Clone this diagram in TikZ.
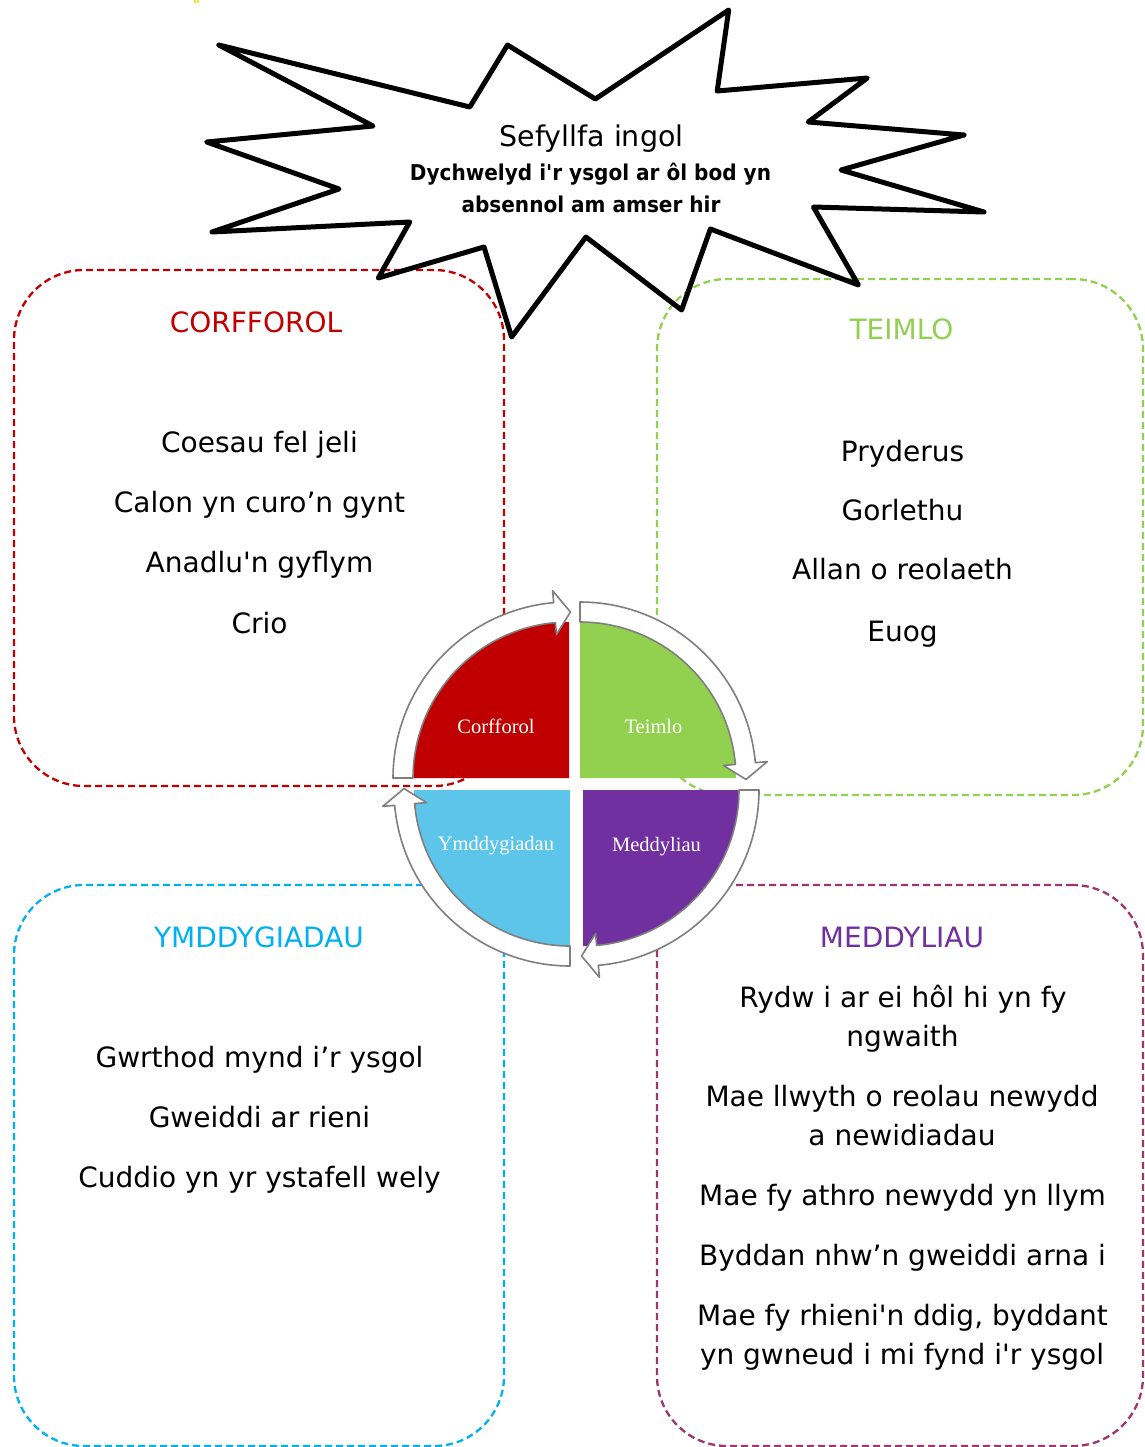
\documentclass[tikz,border=0pt]{standalone}
\usepackage{fontspec}
\setmainfont{DejaVu Sans}[Ligatures=TeXOff]
\newfontfamily\quadfont{Liberation Serif}
\newfontfamily\narrowbold{DejaVu Sans}[Ligatures=TeXOff, FakeStretch=0.92]
\usetikzlibrary{calc}

\definecolor{physred}{HTML}{C00000}
\definecolor{feelgreen}{HTML}{92D050}
\definecolor{actblue}{HTML}{00B0F0}
\definecolor{actfill}{HTML}{5DC5EA}
\definecolor{thinkpurple}{HTML}{7030A0}
\definecolor{thinkdash}{HTML}{9F346E}
\definecolor{ringgray}{HTML}{7F7F7F}
\definecolor{speck}{HTML}{E8E830}

% one white ring segment of the cycle: flat tail, arrow head at the end
% #1,#2 = centre of the quarter, #3 = start angle (angles grow clockwise)
\newcommand\cyclearrow[3]{%
  \pgfmathsetmacro\arrbase{#3+85}%
  \pgfmathsetmacro\arrtip{#3+90.5}%
  \draw[ringseg]
    plot[domain=#3:\arrbase, samples=60] ({#1+176*cos(\x)},{#2+176*sin(\x)})
    -- ({#1+188*cos(\arrbase)},{#2+188*sin(\arrbase)})
    -- ({#1+166*cos(\arrtip)},{#2+166*sin(\arrtip)})
    -- ({#1+144*cos(\arrbase)},{#2+144*sin(\arrbase)})
    -- plot[domain=\arrbase:#3, samples=60] ({#1+156*cos(\x)},{#2+156*sin(\x)})
    -- cycle;
}
% one filled quarter disc
\newcommand\quarterdisc[4]{%
  \fill[#4] (#1,#2) -- plot[domain=#3:#3+90, samples=60] ({#1+156*cos(\x)},{#2+156*sin(\x)}) -- cycle;
}

\begin{document}
\begin{tikzpicture}[x=1pt,y=-1pt,
  panel/.style={rectangle, draw=#1, dash pattern=on 7pt off 4pt, line width=2.3pt,
                rounded corners=70pt, inner sep=0pt},
  heading/.style={text=#1, font=\fontsize{28}{34}\selectfont, anchor=base, inner sep=0pt},
  item/.style={font=\fontsize{28}{34}\selectfont, anchor=base, inner sep=0pt},
  subitem/.style={font=\narrowbold\bfseries\fontsize{21.8}{26}\selectfont, anchor=base, inner sep=0pt},
  quadlabel/.style={text=white, font=\quadfont\fontsize{20.5}{24}\selectfont, anchor=base, inner sep=0pt},
  ringseg/.style={fill=white, draw=ringgray, line width=1.6pt, line join=round},
  burst/.style={draw=black, line width=5pt, line join=round},
]
\useasboundingbox (0,0) rectangle (1144,1447);
\clip (0,0) rectangle (1144,1447);

% tiny yellow speck at the top edge
\fill[speck] (194,0) rectangle (195.6,3);
\fill[speck] (197.4,0) rectangle (199.4,3);

% the four dashed panels
\node[panel=physred, minimum width=490pt, minimum height=516pt] (physbox) at (259,528) {};
\node[panel=feelgreen, minimum width=486pt, minimum height=516pt] (feelbox) at (900,537) {};
\node[panel=actblue, minimum width=490pt, minimum height=561pt] (actbox) at (259,1165.5) {};
\node[panel=thinkdash, minimum width=486pt, minimum height=561pt] (thinkbox) at (900,1165.5) {};

% explosion outline with the situation text
\draw[burst] (218.8,45) -- (469.8,107) -- (507.5,45) -- (595.3,99) -- (728.7,10)
  -- (717.2,91) -- (867.3,78) -- (808.2,122) -- (964,135) -- (841,170)
  -- (984,212) -- (813.4,207) -- (858.4,285) -- (710.4,229) -- (681.6,310)
  -- (585.9,237) -- (511.6,337) -- (484,247) -- (378.3,278) -- (409.7,222)
  -- (212,232) -- (339,189) -- (206.7,142) -- (373,126) -- cycle;
\node[item, font=\fontsize{28.5}{34}\selectfont] (sit) at (591.5,147) {Sefyllfa ingol};
\node[subitem] (sitA) at (590.5,181) {Dychwelyd i'r ysgol ar ôl bod yn};
\node[subitem] (sitB) at (591,213) {absennol am amser hir};

% panel texts
\node[heading=physred] (physhead) at (256,332) {CORFFOROL};
\node[item] (p1) at (259.5,452) {Coesau fel jeli};
\node[item] (p2) at (259.5,512) {Calon yn curo’n gynt};
\node[item] (p3) at (259.5,572) {Anadlu'n gyflym};
\node[item] (p4) at (259.5,633) {Crio};

\node[heading=feelgreen] (feelhead) at (901.5,339) {TEIMLO};
\node[item] (f1) at (902.5,461) {Pryderus};
\node[item] (f2) at (902.5,520) {Gorlethu};
\node[item] (f3) at (902.5,579) {Allan o reolaeth};
\node[item] (f4) at (902.5,641) {Euog};

\node[heading=actblue] (acthead) at (259,947) {YMDDYGIADAU};
\node[item] (a1) at (259.5,1067) {Gwrthod mynd i’r ysgol};
\node[item] (a2) at (259.5,1127) {Gweiddi ar rieni};
\node[item] (a3) at (259.5,1187) {Cuddio yn yr ystafell wely};

\node[heading=thinkpurple] (thinkhead) at (902,947) {MEDDYLIAU};
\node[item] (t1a) at (903,1007) {Rydw i ar ei hôl hi yn fy};
\node[item] (t1b) at (902.5,1046) {ngwaith};
\node[item] (t2a) at (902,1106) {Mae llwyth o reolau newydd};
\node[item] (t2b) at (902,1145) {a newidiadau};
\node[item] (t3) at (902.5,1205) {Mae fy athro newydd yn llym};
\node[item] (t4) at (902.5,1265) {Byddan nhw’n gweiddi arna i};
\node[item] (t5a) at (902.5,1325) {Mae fy rhieni'n ddig, byddant};
\node[item] (t5b) at (902,1364) {yn gwneud i mi fynd i'r ysgol};

% central cycle: four quarters and the ring of arrows
\quarterdisc{569}{778}{180}{physred}
\quarterdisc{580}{778}{270}{feelgreen}
\quarterdisc{583}{790}{0}{thinkpurple}
\quarterdisc{570}{790}{90}{actfill}

\cyclearrow{569}{778}{180}
\cyclearrow{580}{778}{270}
\cyclearrow{583}{790}{0}
\cyclearrow{570}{790}{90}

\node[quadlabel] (qphys) at (496,733) {Corfforol};
\node[quadlabel] (qfeel) at (653.5,733) {Teimlo};
\node[quadlabel] (qact) at (496,850) {Ymddygiadau};
\node[quadlabel] (qthink) at (656.5,851) {Meddyliau};
\end{tikzpicture}
\end{document}
